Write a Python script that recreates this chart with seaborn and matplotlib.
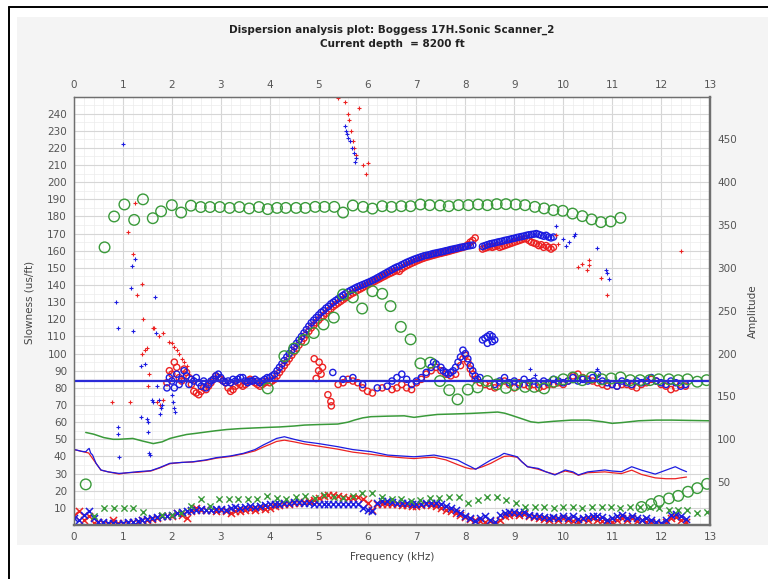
import numpy as np
import matplotlib
matplotlib.use("Agg")
import matplotlib.pyplot as plt
import seaborn as sns
from matplotlib.patches import Rectangle
from matplotlib.lines import Line2D
from matplotlib.ticker import MultipleLocator

# ---------------- text ----------------
TITLE = "Dispersion analysis plot: Boggess 17H.Sonic Scanner_2"
SUBTITLE = "Current depth  = 8200 ft"
X_LABEL = "Frequency (kHz)"
Y_LABEL = "Slowness (us/ft)"
Y2_LABEL = "Amplitude"
x_ticks = list(range(0, 14))
slowness_ticks = list(range(10, 250, 10))
amplitude_ticks = list(range(50, 500, 50))
reference_slowness = 84

# ---------------- dispersion estimates (slowness, us/ft) ----------------
# evenly spaced frequency runs: (start kHz, step kHz, values)
blue_run1 = (1.90, 0.05, [
    80, 86, 84, 80, 88, 82, 85, 90, 87, 82,
    85, 84, 86, 83, 81, 84, 80, 82, 84, 85,
    87, 88, 86, 84, 83, 84, 83, 85, 84, 85,
    86, 86, 84, 83, 84, 84, 85, 84, 83, 84,
    85, 86, 86, 87, 88, 90, 92, 94, 96, 98,
    100, 102, 104, 106, 108, 110, 112, 114, 116, 118,
    119.5, 121, 122.5, 124, 125, 126.5, 127.5, 129, 130, 131,
    132, 133, 134, 135, 136, 136.8, 137.5, 138.3, 139, 139.6,
    140.2, 140.8, 141.4, 142, 142.7, 143.4, 144.2, 145, 145.8, 146.6,
    147.4, 148.2, 149, 149.8, 150.5, 151, 151.8, 152.5, 153.2, 153.8,
    154.4, 155, 155.5, 156, 156.5, 157, 157.3, 157.6, 158, 158.4,
    158.7, 159, 159.3, 159.6, 160, 160.3, 160.7, 161, 161.3, 161.6,
    162, 162.2, 162.5, 162.8, 163, 163.3])
blue_run2 = (8.35, 0.05, [
    162.5, 163, 163.5, 164, 164.3, 164.6, 165, 165.3, 165.6, 166,
    166.3, 166.6, 167, 167.3, 167.7, 168, 168.3, 168.6, 169, 169.3,
    169.5, 169.7, 170, 169.5, 169, 168.5, 169, 168, 167.5, 168])
red_run1 = (1.90, 0.05, [
    83, 90, 88, 95, 92, 86, 84, 91, 89, 86,
    82, 78, 77, 76, 78, 80, 79, 81, 83, 85,
    87, 86, 85, 84, 83, 80, 78, 79, 81, 83,
    82, 81, 82, 84, 85, 84, 83, 82, 81, 82,
    83, 84, 83, 84, 85, 87, 89, 91, 93, 95,
    97, 99, 101, 103, 105, 107, 109, 111, 113, 115,
    116.5, 118, 119.5, 121, 122, 123.5, 125, 126, 127.5, 128.5,
    129.5, 130.5, 131.5, 132.5, 133.5, 134.5, 135.3, 136, 137, 137.7,
    138.5, 139.3, 140, 140.8, 141.5, 142.2, 143, 143.7, 144.5, 145.2,
    146, 146.7, 147.3, 148, 148.5, 148, 149.5, 150.5, 151.3, 152,
    152.7, 153.3, 154, 154.6, 155.2, 155.7, 156.2, 156.6, 157, 157.4,
    157.8, 158.2, 158.5, 158.9, 159.2, 159.6, 160, 160.4, 160.8, 161.2,
    161.6, 162, 162.5, 163.5, 165, 166, 167.5])
red_run2 = (8.35, 0.05, [
    161, 161.5, 162, 162.5, 162, 162.5, 163, 162, 162.5, 163,
    163.5, 164, 164.5, 165, 165.5, 166, 166.5, 167, 167, 166,
    165, 164.5, 164, 163, 163.5, 162, 163, 162, 161, 162])

blue_mid = [(5.29, 89), (5.5, 85), (5.7, 86), (5.9, 82), (6.2, 80), (6.4, 81), (6.5, 84),
            (6.6, 86), (6.7, 88), (6.8, 85), (6.9, 82), (7.0, 84), (7.1, 86), (7.2, 89),
            (7.3, 92), (7.35, 95), (7.4, 94), (7.5, 92), (7.55, 90), (7.6, 89), (7.65, 88),
            (7.7, 89), (7.75, 90), (7.8, 92), (7.85, 95), (7.9, 98), (7.95, 102), (8.0, 100),
            (8.05, 97), (8.1, 93), (8.15, 90), (8.2, 87), (8.25, 85), (8.3, 86), (8.35, 108),
            (8.4, 109), (8.45, 110), (8.5, 111), (8.55, 110), (8.6, 108), (8.45, 106), (8.55, 107)]
red_mid = [(4.91, 97), (5.01, 95), (5.08, 92), (4.95, 85.5), (5.0, 90), (5.05, 88), (5.19, 76),
           (5.25, 72), (5.26, 69.5), (5.4, 82), (5.5, 83), (5.6, 85), (5.7, 84), (5.8, 83),
           (5.9, 80), (6.0, 78), (6.1, 77), (6.3, 80), (6.5, 79), (6.6, 80), (6.7, 82),
           (6.8, 80), (6.9, 79), (7.0, 83), (7.1, 85), (7.2, 88), (7.3, 90), (7.4, 92),
           (7.5, 90), (7.6, 88), (7.7, 87), (7.8, 88), (7.9, 93), (7.95, 97), (8.0, 99),
           (8.05, 95), (8.1, 91), (8.15, 88), (8.2, 85), (8.3, 83), (8.4, 82), (8.5, 81)]
blue_tail = (8.6, 0.1, [
    82, 84, 86, 83, 84, 82, 85, 83, 84, 82,
    84, 83, 85, 84, 83, 84, 86, 84, 85, 84,
    86, 88, 84, 83, 82, 81, 84, 83, 82, 84,
    83, 84, 86, 84, 83, 82, 84, 83, 81, 82])
red_tail = (8.6, 0.1, [
    80, 83, 84, 82, 80, 83, 82, 81, 82, 80,
    81, 82, 82, 83, 82, 84, 87, 88, 86, 85,
    84, 83, 82, 81, 82, 81, 82, 82, 81, 80,
    82, 83, 85, 84, 82, 81, 79, 80, 82, 81])

blue_sparse = [(1.0, 222), (1.24, 155), (1.19, 151), (1.17, 138), (1.66, 133), (0.86, 130),
               (0.89, 115), (1.2, 113), (1.67, 112), (1.36, 93), (1.45, 94), (1.70, 81),
               (1.6, 73), (1.62, 72), (1.74, 73), (1.77, 68), (1.75, 65), (1.8, 70), (2.0, 76),
               (2.02, 72), (2.05, 68), (2.06, 66), (0.89, 57), (0.9, 53), (1.37, 63), (1.5, 62),
               (1.52, 60), (1.51, 54), (1.54, 42), (1.55, 41), (0.93, 39.5), (9.32, 91),
               (9.42, 87.5), (10.7, 91), (10.72, 87.5),
               (5.54, 233), (5.55, 230), (5.58, 228), (5.61, 226), (5.64, 224), (5.69, 220),
               (5.72, 217), (5.74, 212), (5.76, 214),
               (9.85, 174.5), (9.99, 167), (10.05, 163), (10.12, 165), (10.22, 168.7),
               (10.25, 170), (10.7, 161.7), (10.87, 148.7), (10.9, 147.2), (10.93, 143.5)]
red_sparse = [(1.25, 188), (1.10, 171), (1.21, 158), (1.38, 140.5), (1.28, 134), (1.41, 120),
              (1.61, 115), (1.64, 115), (1.73, 110), (1.82, 112), (1.4, 100), (1.45, 102),
              (1.5, 103), (1.54, 88), (1.52, 81), (1.7, 72), (1.76, 70), (1.82, 73), (0.78, 71.5),
              (1.14, 71.5), (1.95, 107), (2.0, 106), (2.05, 104), (2.1, 102), (2.15, 100),
              (2.2, 97), (2.25, 95), (2.3, 93),
              (5.39, 249), (5.54, 247), (5.6, 240), (5.62, 236), (5.66, 230), (5.71, 224),
              (5.73, 220), (5.76, 216), (5.83, 243), (5.91, 210), (5.96, 205), (6.0, 211),
              (9.85, 169), (9.9, 164), (10.3, 150.6), (10.38, 152.2), (10.49, 149),
              (10.53, 151.6), (10.52, 154.5), (10.77, 144.2), (10.9, 134.1), (12.4, 160)]

# low-slowness band of crosses (0.0 kHz, step 0.1)
blue_low = (0.0, 0.1, [
    4, 3, 6, 8, 4, 2, 1.5, 1, 1, 0.5,
    1, 1.5, 2, 2.5, 3, 3.5, 4, 4.5, 5, 5.5,
    6, 7, 7.5, 8, 8.5, 9, 9.5, 9, 9, 9.5,
    9.5, 9, 10, 10.5, 10, 10.5, 11, 10.5, 11, 11.5,
    12, 12, 12.5, 13, 13, 13.5, 13.5, 13, 13, 12.5,
    12.5, 12.5, 12.5, 12.5, 12, 12, 12, 12.5, 12, 10,
    8.5, 8, 13, 14, 14, 13.5, 13, 13, 13, 12.5,
    12.5, 12, 13, 13, 13, 12.5, 11, 10, 8.5, 7,
    5, 4, 2.5, 4, 5, 3, 1.5, 6, 7, 7.5,
    7.5, 7, 7.5, 6, 5.5, 5, 4.5, 4, 4.5, 4,
    5, 4, 5, 3.5, 4, 4.5, 5, 5, 4.5, 3,
    4, 5, 6, 4, 5, 4, 3, 4, 3, 2,
    1, 3, 6, 6.5, 5, 3.5])
red_low = (0.0, 0.1, [
    6, 8, 3, 5, 1, 2, 1, 0.5, 3, 1,
    0.5, 1, 1.5, 2, 3, 3, 3.5, 4, 5, 5,
    5.5, 7, 6, 4, 8, 10, 9, 8.5, 9, 8,
    9, 8, 7, 8, 8, 9, 9.5, 9, 10, 9.5,
    10, 11, 11.5, 12, 12.5, 13, 13, 13.5, 14, 14.5,
    16, 17, 17.5, 17.5, 17, 16.5, 16, 16, 16.5, 15,
    13, 9, 12, 12.5, 12.5, 12, 12, 11.5, 11.5, 11,
    11, 11.5, 12, 11.5, 11, 10, 9, 8, 7, 6,
    4.5, 3.5, 3, 2.5, 2, 2.5, 0.5, 3, 5, 6,
    6.5, 6, 6.5, 5, 4.5, 4, 3.5, 3, 4, 3,
    4, 3, 2.5, 2, 3.5, 3, 4, 3, 2.5, 1.5,
    2, 3, 4, 3, 4, 2.5, 3, 2, 1.5, 1,
    0.5, 2, 4, 4.5, 3, 2])

# model / reference circles (slowness)
green_upper = [(0.625, 162), (0.82, 180), (1.03, 187), (1.23, 178), (1.41, 190), (1.61, 179),
               (1.78, 183), (2.0, 186.6), (2.19, 182.3), (2.39, 186.3), (2.59, 185.5),
               (2.78, 185.5), (2.98, 185.5), (3.18, 185), (3.38, 185.5), (3.58, 184.7),
               (3.78, 185.5), (3.96, 184.3), (4.15, 185), (4.33, 185), (4.54, 185), (4.73, 185),
               (4.93, 185.6), (5.12, 185.6), (5.32, 185.6), (5.50, 182.3), (5.70, 186.4),
               (5.91, 185.6), (6.10, 184.6), (6.30, 186), (6.49, 185.6), (6.69, 186), (6.88, 186),
               (7.08, 187), (7.27, 186.6), (7.48, 186.4), (7.66, 186), (7.86, 186.6),
               (8.06, 186.6), (8.26, 187), (8.45, 186.6), (8.64, 187.2), (8.83, 187.2),
               (9.03, 187), (9.22, 186.6), (9.42, 185.6), (9.61, 184.7), (9.80, 183.7),
               (9.99, 183.3), (10.19, 181.7), (10.39, 180.2), (10.58, 178.3), (10.77, 176.7),
               (10.97, 177.1), (11.17, 179.2)]
green_lower = [(3.96, 79.7), (4.30, 98.5), (4.5, 103), (4.7, 108), (4.9, 112), (5.1, 117),
               (5.31, 121), (5.5, 134.5), (5.7, 132.8), (5.89, 126.3), (6.1, 136.4),
               (6.3, 134.9), (6.47, 127.7), (6.68, 115.6), (6.88, 108.3), (7.08, 94.3),
               (7.28, 94.7), (7.48, 84), (7.67, 78.7), (7.84, 73.3), (8.05, 79), (8.25, 80.3),
               (8.45, 84), (8.64, 82), (8.83, 80), (9.01, 81.6), (9.22, 80.6), (9.41, 80.6),
               (9.61, 79.7), (9.81, 83.6), (10.0, 85), (10.2, 86.1), (10.39, 84.5),
               (10.58, 86.1), (10.79, 85), (10.98, 85.5), (11.17, 86.1), (11.37, 84.5),
               (11.57, 84.5), (11.77, 84.5), (11.95, 85), (12.16, 85), (12.35, 84.5),
               (12.54, 85), (12.74, 83.6), (12.93, 84.5),
               (0.24, 23.7), (11.6, 10.5), (11.8, 12.2), (11.96, 14), (12.16, 15.5),
               (12.35, 17), (12.55, 19.4), (12.74, 21.5), (12.94, 24)]

# ---------------- amplitude curves (right axis) ----------------
green_amp_line = [(0.24, 108), (0.4, 106), (0.61, 102), (0.8, 100), (0.92, 100), (1.2, 101),
                  (1.4, 98), (1.62, 95), (1.8, 97), (1.96, 101), (2.1, 103), (2.3, 105.6),
                  (2.5, 107), (2.71, 108.6), (2.9, 110), (3.12, 111.4), (3.4, 112.5),
                  (3.67, 113.2), (4.0, 114), (4.2, 114.4), (4.5, 115.5), (4.71, 116.6),
                  (5.0, 117.2), (5.39, 117.8), (5.6, 120), (5.73, 122.4), (5.9, 125),
                  (6.07, 126.4), (6.4, 127), (6.75, 127.4), (6.95, 125.6), (7.2, 127.5),
                  (7.43, 129), (7.8, 129.6), (8.11, 130.2), (8.4, 131), (8.66, 131.8),
                  (8.8, 130.5), (8.93, 128.2), (9.1, 125), (9.34, 120.4), (9.49, 119.4),
                  (9.8, 121), (10.17, 122.4), (10.52, 122.4), (10.8, 120.5), (11.0, 118.6),
                  (11.2, 119.5), (11.54, 121.6), (11.9, 122.4), (12.22, 122.4), (12.6, 122),
                  (13.0, 121.6)]
blue_amp_line = [(0.0, 88), (0.06, 87.4), (0.15, 86), (0.24, 85.4), (0.28, 88), (0.31, 89.4),
                 (0.34, 84), (0.38, 81.6), (0.45, 72), (0.55, 64.2), (0.7, 62), (0.92, 60.2),
                 (1.1, 61), (1.3, 62.2), (1.57, 63.4), (1.75, 67), (1.96, 72), (2.2, 73),
                 (2.43, 73.8), (2.7, 76), (2.91, 78.6), (3.2, 80.6), (3.46, 83.6), (3.7, 88),
                 (3.87, 93.4), (4.0, 97), (4.14, 101), (4.3, 103), (4.5, 100), (4.71, 97.2),
                 (5.0, 95), (5.39, 91.4), (5.7, 88), (6.07, 85.6), (6.41, 81.6), (6.7, 80.5),
                 (6.95, 79.6), (7.15, 80.5), (7.36, 81.6), (7.6, 79), (7.84, 75.8), (8.0, 71),
                 (8.11, 68), (8.21, 65), (8.35, 70), (8.52, 75.8), (8.7, 80.5), (8.79, 83.6),
                 (8.9, 82), (9.06, 79.6), (9.15, 74), (9.27, 68), (9.49, 66), (9.65, 62),
                 (9.83, 58.4), (10.04, 64.2), (10.2, 62), (10.31, 58.4), (10.5, 62),
                 (10.85, 64.2), (11.0, 63), (11.19, 62.2), (11.4, 68), (11.6, 64),
                 (11.88, 59.4), (12.1, 64), (12.29, 68), (12.4, 65), (12.52, 62.2)]
red_amp_line = [(0.0, 88), (0.15, 86), (0.3, 84), (0.45, 72), (0.55, 64), (0.7, 62),
                (0.92, 59.5), (1.1, 61), (1.3, 61.5), (1.57, 63), (1.75, 66.5), (1.96, 71.5),
                (2.2, 73), (2.43, 73.5), (2.7, 75.5), (2.91, 78), (3.2, 80), (3.46, 83),
                (3.7, 86.5), (3.87, 91), (4.0, 94), (4.14, 97.5), (4.3, 99), (4.5, 97),
                (4.71, 94.5), (5.0, 92), (5.39, 88.5), (5.7, 85), (6.07, 82.5), (6.41, 80),
                (6.7, 78.5), (6.95, 77.5), (7.15, 78.5), (7.36, 79), (7.6, 76), (7.84, 70.5),
                (8.0, 67), (8.11, 65.5), (8.21, 65.5), (8.35, 68), (8.52, 72), (8.7, 77.5),
                (8.79, 80), (8.9, 80.5), (9.06, 79), (9.15, 74), (9.27, 68), (9.49, 65),
                (9.65, 62), (9.83, 59), (10.04, 63), (10.2, 61), (10.31, 58), (10.5, 61),
                (10.85, 62), (11.0, 61), (11.19, 60), (11.4, 64), (11.6, 59), (11.88, 55),
                (12.1, 54), (12.29, 54), (12.4, 55), (12.52, 56)]
green_amp_cross = [(0.41, 10), (0.61, 20.2), (0.82, 20.2), (1.02, 20.2), (1.21, 20.2),
                   (1.42, 15.6), (1.8, 12), (2.0, 12), (2.19, 14), (2.39, 22.6), (2.59, 30),
                   (2.78, 22.6), (2.97, 30.4), (3.17, 30.4), (3.36, 30.4), (3.56, 30.4),
                   (3.75, 30.4), (3.94, 34.2), (4.14, 32), (4.33, 30), (4.53, 33), (4.73, 34),
                   (4.92, 32), (5.12, 35), (5.31, 33), (5.5, 31), (5.7, 34), (5.89, 37.6),
                   (6.1, 37.6), (6.3, 33), (6.49, 30), (6.69, 30), (6.88, 28), (7.08, 29.2),
                   (7.27, 31), (7.47, 31.2), (7.67, 33), (7.86, 33), (8.06, 25.2), (8.26, 29.2),
                   (8.45, 32.2), (8.64, 32.2), (8.84, 29.2), (9.03, 25.2), (9.22, 21.4),
                   (9.42, 20.6), (9.61, 21.4), (9.81, 19.4), (10.0, 21.4), (10.2, 20.6),
                   (10.39, 19.4), (10.58, 20.6), (10.79, 20.6), (10.98, 20.6), (11.17, 19.4),
                   (11.37, 20.6), (11.57, 21.4), (11.77, 20.6), (11.95, 19.4), (12.16, 17.4),
                   (12.35, 17.4), (12.54, 17.4), (12.74, 14.4), (12.93, 15.6)]

BLUE = "#1c1ce0"
RED = "#ec2222"
GREEN = "#3a9a3a"


def run(series):
    start, step, vals = series
    f = np.round(start + step * np.arange(len(vals)), 3)
    return f, np.asarray(vals, dtype=float)


def pairs(series):
    f, v = zip(*series)
    return np.asarray(f, dtype=float), np.asarray(v, dtype=float)


sns.set_style("white")
plt.rcParams["font.family"] = ["DejaVu Sans"]

fig = plt.figure(figsize=(7.68, 5.79), dpi=100)
fig.patch.set_facecolor("white")
fig.add_artist(Rectangle((17 / 768, 1 - 545 / 579), 1 - 17 / 768, (545 - 17) / 579,
                         transform=fig.transFigure, facecolor="#f4f4f4",
                         edgecolor="none", zorder=-5))
fig.add_artist(Line2D([9 / 768, 9 / 768], [0, 1 - 7 / 579], transform=fig.transFigure,
                      color="black", lw=1.4))
fig.add_artist(Line2D([9 / 768, 1], [1 - 7 / 579, 1 - 7 / 579], transform=fig.transFigure,
                      color="black", lw=1.4))

ax = fig.add_axes([74 / 768, 1 - 525 / 579, 636 / 768, 428.5 / 579])
ax.set_facecolor("white")

# dispersion points
circ = dict(marker="o", s=20, facecolors="none", linewidth=1.0, ax=ax, legend=False)
for series, col in [(red_run1, RED), (red_run2, RED), (blue_run1, BLUE), (blue_run2, BLUE)]:
    f, v = run(series)
    sns.scatterplot(x=f, y=v, edgecolor=col, color=col, zorder=3, **circ)
for series, col in [(red_mid, RED), (blue_mid, BLUE)]:
    f, v = pairs(series)
    sns.scatterplot(x=f, y=v, edgecolor=col, color=col, zorder=3, **circ)
for series, col in [(red_tail, RED), (blue_tail, BLUE)]:
    f, v = run(series)
    sns.scatterplot(x=f, y=v, edgecolor=col, color=col, zorder=3, **circ)
for series, col in [(red_sparse, RED), (blue_sparse, BLUE)]:
    f, v = pairs(series)
    sns.scatterplot(x=f, y=v, marker="+", s=8, color=col, linewidth=0.8, ax=ax,
                    legend=False, zorder=3)
for series, col in [(red_low, RED), (blue_low, BLUE)]:
    f, v = run(series)
    sns.scatterplot(x=f, y=v, marker="x", s=26, color=col, linewidth=1.1, ax=ax,
                    legend=False, zorder=3)

# green circles
for series in [green_upper, green_lower]:
    f, v = pairs(series)
    sns.scatterplot(x=f, y=v, marker="o", s=58, facecolors="none", edgecolor=GREEN,
                    color=GREEN, linewidth=1.0, ax=ax, legend=False, zorder=4)

ax.axhline(reference_slowness, color="#2a2ad8", lw=1.6, zorder=5)

ax.set_xlim(0, 13)
ax.set_ylim(0, 250)
ax.set_xticks(x_ticks)
ax.set_yticks(slowness_ticks)
ax.xaxis.set_minor_locator(MultipleLocator(0.2))
ax.yaxis.set_minor_locator(MultipleLocator(5))
ax.grid(which="major", color="#d6d6d6", lw=0.8)
ax.grid(which="minor", color="#ececec", lw=0.5)
ax.set_axisbelow(True)
ax.tick_params(axis="x", which="both", length=0, labeltop=True, labelbottom=True,
               labelsize=7.5, labelcolor="#555555", pad=5)
ax.tick_params(axis="y", which="both", length=0, labelsize=7.5, labelcolor="#555555", pad=5)
ax.set_xlabel(X_LABEL, fontsize=7.5, color="#444444")
ax.set_ylabel(Y_LABEL, fontsize=7.5, color="#444444")
ax.xaxis.set_label_coords(0.5, -0.062)
ax.yaxis.set_label_coords(-0.062, 0.52)

# amplitude axis
ax2 = ax.twinx()
for series, col, lw in [(green_amp_line, GREEN, 1.1), (red_amp_line, RED, 0.9),
                        (blue_amp_line, BLUE, 0.9)]:
    f, v = pairs(series)
    sns.lineplot(x=f, y=v, color=col, linewidth=lw, sort=False, estimator=None, ax=ax2)
f, v = pairs(green_amp_cross)
sns.scatterplot(x=f, y=v, marker="x", s=20, color=GREEN, linewidth=1.0, ax=ax2, legend=False)
ax2.set_ylim(0, 500)
ax2.set_yticks(amplitude_ticks)
ax2.tick_params(axis="y", length=0, labelsize=7.5, labelcolor="#555555", pad=5)
ax2.set_ylabel(Y2_LABEL, fontsize=7.5, color="#444444")
ax2.yaxis.set_label_coords(1.06, 0.5)

for a in (ax, ax2):
    for side, sp in a.spines.items():
        sp.set_color("#6f6f6f")
        sp.set_linewidth(1.6 if side in ("right", "bottom") else 0.9)

fig.text(392 / 768, 1 - 30 / 579, TITLE, ha="center", va="center", fontsize=7.5,
         fontweight="bold", color="#222222")
fig.text(392 / 768, 1 - 44 / 579, SUBTITLE, ha="center", va="center", fontsize=7.5,
         fontweight="bold", color="#222222")

fig.savefig("out.png", dpi=100)
